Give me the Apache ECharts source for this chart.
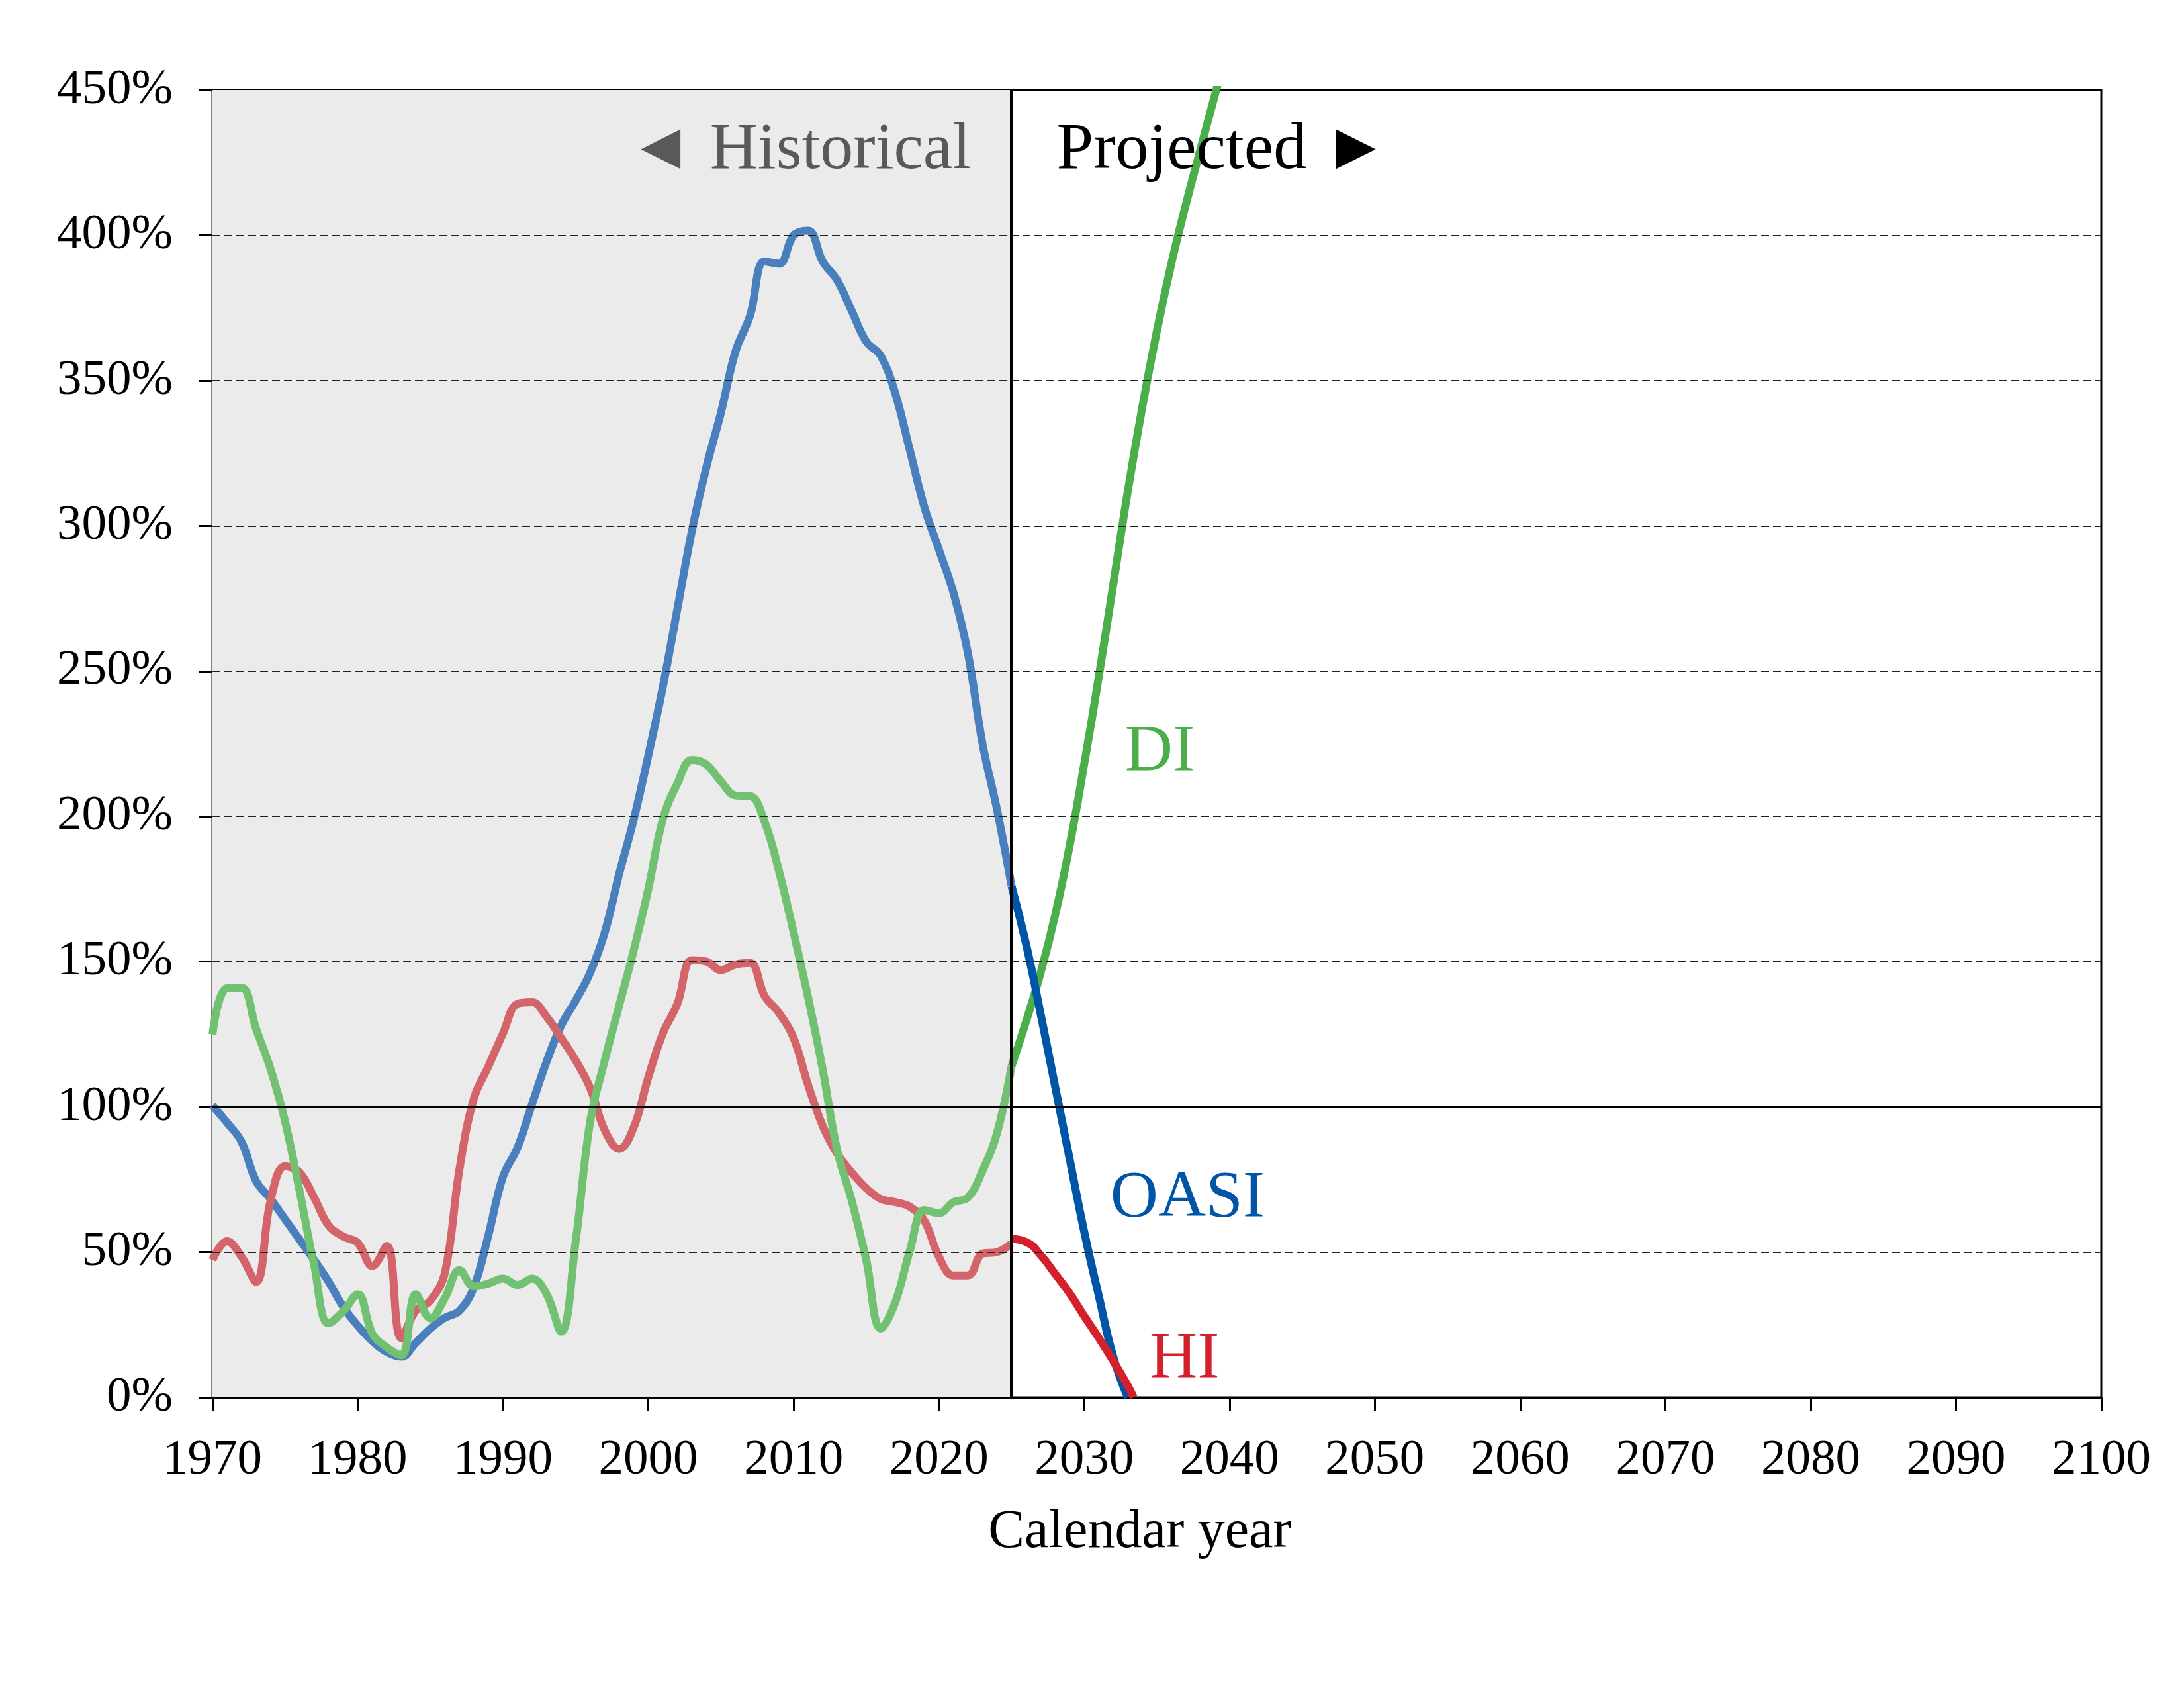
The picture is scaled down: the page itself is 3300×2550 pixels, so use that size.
<!DOCTYPE html>
<html>
<head>
<meta charset="utf-8">
<script src="https://cdn.jsdelivr.net/npm/echarts@6/dist/echarts.min.js"></script>
<style>
html,body{margin:0;padding:0;background:#ffffff;}
#chart{width:3300px;height:2550px;}
</style>
</head>
<body>
<div id="chart"></div>
<script>
// ---------- data ----------
const histYears = [1970,1971,1972,1973,1974,1975,1976,1977,1978,1979,
  1980,1981,1982,1983,1984,1985,1986,1987,1988,1989,
  1990,1991,1992,1993,1994,1995,1996,1997,1998,1999,
  2000,2001,2002,2003,2004,2005,2006,2007,2008,2009,
  2010,2011,2012,2013,2014,2015,2016,2017,2018,2019,
  2020,2021,2022,2023,2024,2025];

const oasiHist = [100.5,94.6,88,74.5,68.3,61.3,54.3,47.3,39.8,31.2,
  24.7,19.4,15.6,14.0,18.8,23.7,27.4,29.8,38,56,
  76,86,101,115.6,128,136.6,146.2,160,180.3,199,
  221,244.6,271.4,298.3,320.3,339,360,372.3,391,390.2,
  400,401.6,391,384.5,374,363.4,358.5,345.5,326,306.4,
  291.8,277,256,225,202.3,176];

const diHist = [125,140.9,141,126.9,113,95,71,45.5,25.5,29.6,
  35.5,22,17.2,14.5,35.5,27.2,34.2,43.8,38.2,39.2,
  40.9,38.7,40.9,35.5,22.6,53.8,95,116,135,154,
  175,199,211.3,219.4,217.8,212,207.2,207,198.2,181,
  160,137.6,112.9,85,67.7,47.3,23.7,32.8,50.5,64.5,
  63.4,67.2,68.8,78,91,114];

const hiHist = [47.3,53.8,48.4,39.8,67.7,79.6,77.4,68.8,59.1,55.4,
  53.2,45.2,52.2,20.4,29.9,33.3,43,78.5,103,114,
  125.3,135.5,136,131,123.7,116,106.5,92,85.5,93,
  110.2,125.3,135.5,150.5,150,147.1,149,149.5,138.2,132.3,
  123.7,107.5,93.5,83.9,77.4,72,68.3,67.2,65.6,60.8,
  48.4,42,42,49.5,50,53];

const oasiProjYears = [2025,2026,2027,2028,2029,2030,2031,2032,2033];
const oasiProj = [176,156,132,107,82,57,35,14,0];

const diProjYears = [2025,2026,2027,2028,2029,2030,2031,2032,2033,2034,2035,2036,2037,2038,2039,2040];
const diProj = [114,129.4,146.2,166,190,218,248,279.9,311.9,340.9,367,390.3,410.7,429.6,448.4,467];

const hiProjYears = [2025,2026,2027,2028,2029,2030,2031,2032,2033,2033.4];
const hiProj = [54.5,53.5,49,42.5,35.8,28,20.5,12.5,4,0];

const xTicks = {min:1970, max:2100, step:10};
const yTicks = {min:0, max:450, step:50};
const gridValues = [50,150,200,250,300,350,400];
const boundaryYear = 2025;
const trustLevel = 100;

// ---------- styling ----------
const FONT = 'Liberation Serif';
const C = {
  oasiH:'#4a7fbd', oasiP:'#0055a6',
  diH:'#72c072',  diP:'#4cae4a',
  hiH:'#d2646a',  hiP:'#d4202b'
};

function pairs(xs, ys){ return xs.map((x,i)=>[x, ys[i]]); }
function lineSeries(name, xs, ys, color, z, smooth){
  return {
    name, type:'line', data:pairs(xs, ys), smooth:smooth, showSymbol:false,
    symbol:'none', clip:true, z:z,
    lineStyle:{color:color, width:12}, emphasis:{disabled:true}
  };
}

const chart = echarts.init(document.getElementById('chart'), null, {renderer:'canvas'});

const gridMarks = gridValues.map(v => ({yAxis:v, lineStyle:{color:'#222', width:2, type:[12,6]}}));

const option = {
  animation:false,
  backgroundColor:'#ffffff',
  grid:{left:321, right:125, top:136, bottom:439, show:true, borderColor:'#000', borderWidth:3, backgroundColor:'transparent'},
  xAxis:{
    type:'value', min:xTicks.min, max:xTicks.max, interval:xTicks.step,
    axisLine:{show:true, onZero:false, lineStyle:{color:'#000', width:3}},
    axisTick:{show:true, inside:false, length:20, lineStyle:{color:'#000', width:3}},
    axisLabel:{fontFamily:FONT, fontSize:75, color:'#000', margin:58, formatter:v => String(v)},
    splitLine:{show:false},
    name:'Calendar year', nameLocation:'middle', nameGap:163,
    nameTextStyle:{fontFamily:FONT, fontSize:82, color:'#000', padding:[0,52,0,0]}
  },
  yAxis:{
    type:'value', min:yTicks.min, max:yTicks.max, interval:yTicks.step,
    axisLine:{show:true, lineStyle:{color:'#000', width:3}},
    axisTick:{show:true, inside:false, length:20, lineStyle:{color:'#000', width:3}},
    axisLabel:{fontFamily:FONT, fontSize:75, color:'#000', margin:60, formatter:'{value}%'},
    splitLine:{show:false}
  },
  series:[
    {
      name:'shade', type:'line', data:[], z:-5, silent:true,
      markArea:{silent:true, itemStyle:{color:'#ebebeb'}, data:[[{xAxis:xTicks.min},{xAxis:boundaryYear}]]}
    },
    {
      name:'grid', type:'line', data:[], z:1, silent:true,
      markLine:{silent:true, symbol:'none', label:{show:false}, data:gridMarks}
    },
    lineSeries('OASI hist', histYears, oasiHist, C.oasiH, 3, 0.4),
    lineSeries('HI hist', histYears, hiHist, C.hiH, 3, 0.4),
    lineSeries('DI hist', histYears, diHist, C.diH, 3, 0.4),
    lineSeries('DI proj', diProjYears, diProj, C.diP, 4, 0.5),
    lineSeries('OASI proj', oasiProjYears, oasiProj, C.oasiP, 4, 0.5),
    lineSeries('HI proj', hiProjYears, hiProj, C.hiP, 4, 0.5),
    {
      name:'refs', type:'line', data:[], z:2, silent:true,
      markLine:{
        silent:true, symbol:'none', label:{show:false},
        data:[
          {yAxis:trustLevel, lineStyle:{color:'#000', width:3, type:'solid'}},
          {xAxis:boundaryYear, lineStyle:{color:'#000', width:5, type:'solid'}}
        ]
      }
    }
  ]
};
chart.setOption(option);

function P(x, y){ return chart.convertToPixel({gridIndex:0}, [x, y]); }
function txt(text, x, y, align, color, size){
  const p = P(x, y);
  return {type:'text', x:p[0], y:p[1], z:50,
    style:{text:text, fill:color, font:size + 'px "' + FONT + '"', align:align, verticalAlign:'middle'}};
}
chart.setOption({graphic:[
  txt('\u25C4 Historical', 2022.2, 429, 'right', '#595959', 100),
  txt('Projected \u25BA', 2028.1, 429, 'left', '#000000', 100),
  txt('DI', 2032.8, 222, 'left', C.diP, 100),
  txt('OASI', 2031.8, 68.5, 'left', C.oasiP, 100),
  txt('HI', 2034.5, 13, 'left', C.hiP, 100)
]});
</script>
</body>
</html>
